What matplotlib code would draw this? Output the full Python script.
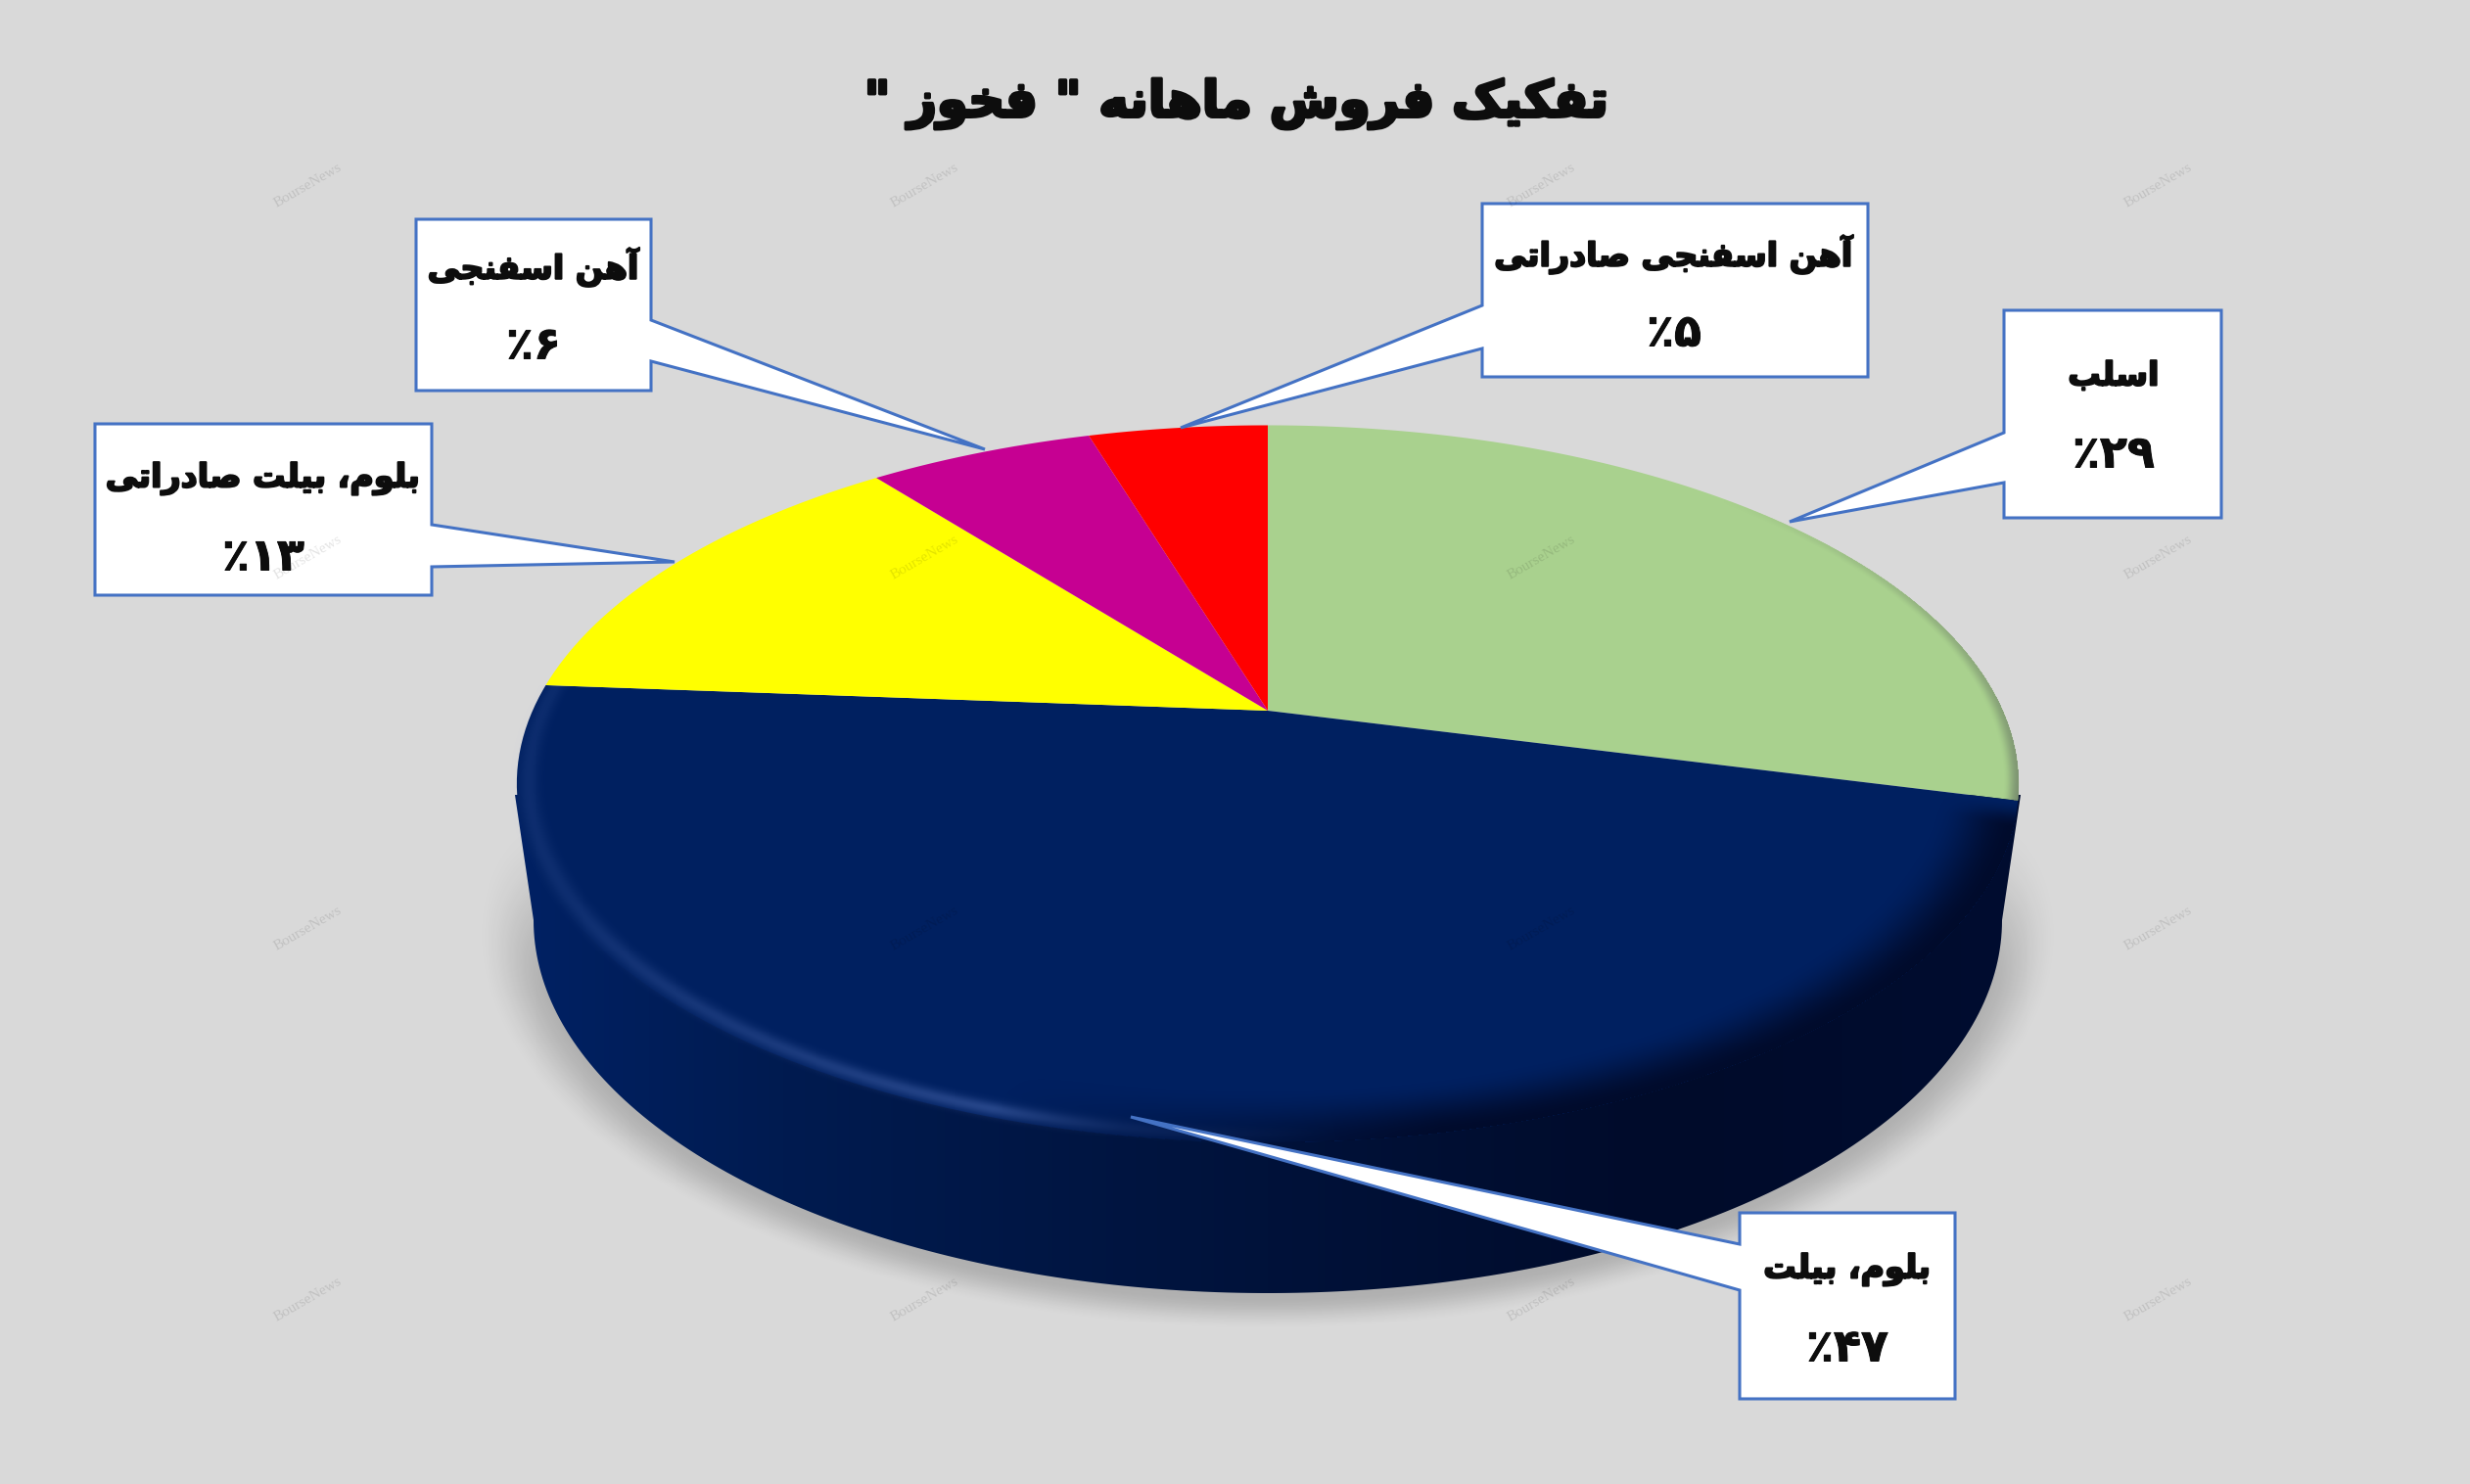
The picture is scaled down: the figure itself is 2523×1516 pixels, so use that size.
import numpy as np
import matplotlib
matplotlib.use('Agg')
import matplotlib.pyplot as plt
import matplotlib.patheffects as pe
from matplotlib.path import Path
from matplotlib.patches import PathPatch
from matplotlib.transforms import Transform

W, H = 2523, 1516
title = 'تفکیک فروش ماهانه " فخوز "'
categories = ['اسلب', 'بلوم، بیلت', 'بلوم، بیلت صادراتی', 'آهن اسفنجی', 'آهن اسفنجی صادراتی']
shares = [29.0, 47.2, 13.2, 5.9, 4.7]
percent_labels = [29, 47, 13, 6, 5]
colors = ['#a9d18e', '#002060', '#ffff00', '#c60092', '#ff0000']

FORMS = {
    'آ': (0xFE81, 0xFE82), 'ا': (0xFE8D, 0xFE8E), 'د': (0xFEA9, 0xFEAA), 'ر': (0xFEAD, 0xFEAE),
    'ز': (0xFEAF, 0xFEB0), 'و': (0xFEED, 0xFEEE),
    'ب': (0xFE8F, 0xFE90, 0xFE91, 0xFE92), 'ت': (0xFE95, 0xFE96, 0xFE97, 0xFE98),
    'ج': (0xFE9D, 0xFE9E, 0xFE9F, 0xFEA0), 'خ': (0xFEA5, 0xFEA6, 0xFEA7, 0xFEA8),
    'س': (0xFEB1, 0xFEB2, 0xFEB3, 0xFEB4), 'ش': (0xFEB5, 0xFEB6, 0xFEB7, 0xFEB8),
    'ص': (0xFEB9, 0xFEBA, 0xFEBB, 0xFEBC), 'ف': (0xFED1, 0xFED2, 0xFED3, 0xFED4),
    'ک': (0xFB8E, 0xFB8F, 0xFB90, 0xFB91), 'ل': (0xFEDD, 0xFEDE, 0xFEDF, 0xFEE0),
    'م': (0xFEE1, 0xFEE2, 0xFEE3, 0xFEE4), 'ن': (0xFEE5, 0xFEE6, 0xFEE7, 0xFEE8),
    'ه': (0xFEE9, 0xFEEA, 0xFEEB, 0xFEEC), 'ی': (0xFBFC, 0xFBFD, 0xFBFE, 0xFBFF),
}


def shape(s):
    out = []
    for i, c in enumerate(s):
        f = FORMS.get(c)
        if f is None:
            out.append(c)
            continue
        prev = FORMS.get(s[i - 1]) if i > 0 else None
        nxt = FORMS.get(s[i + 1]) if i + 1 < len(s) else None
        join_prev = prev is not None and len(prev) == 4
        join_next = nxt is not None and len(f) == 4
        if join_prev and join_next:
            out.append(chr(f[3]))
        elif join_prev:
            out.append(chr(f[1]))
        elif join_next:
            out.append(chr(f[2]))
        else:
            out.append(chr(f[0]))
    return ''.join(reversed(out))


def pct(v):
    return '٪' + str(v).translate(str.maketrans('0123456789', '۰۱۲۳۴۵۶۷۸۹'))


CX, CY, A, B, K = 1295.0, 726.0, 751.0, 351.0, 0.204


class Perspective(Transform):
    input_dims = output_dims = 2
    is_separable = False
    has_inverse = False

    def transform_non_affine(self, v):
        v = np.asarray(v, float)
        d = 1 + K * v[:, 1]
        return np.column_stack([CX + A * v[:, 0] / d, CY - B * v[:, 1] / d])

    def transform_path_non_affine(self, path):
        polys = Path(path.vertices * 2000, path.codes).to_polygons(closed_only=True)
        p = polys[0] / 2000
        return Path(self.transform_non_affine(p), closed=True)


def px_axes(z):
    a = fig.add_axes([0, 0, 1, 1], zorder=z)
    a.set_xlim(0, W)
    a.set_ylim(H, 0)
    a.axis('off')
    a.patch.set_alpha(0)
    return a


def over(img, a, **kw):
    a.imshow(img, extent=(0, W, H, 0), aspect='auto', interpolation='bilinear', **kw)
    a.set_xlim(0, W)
    a.set_ylim(H, 0)


def sstep(t):
    t = np.clip(t, 0, 1)
    return t * t * (3 - 2 * t)


fig = plt.figure(figsize=(W / 100, H / 100), dpi=100, facecolor='#d9d9d9')
yy, xx = np.mgrid[0:H, 0:W] + 0.5

# drop shadow
BCX, BCY, BA, BB = 1295.0, 940.0, 750.0, 381.0
ax0 = px_axes(1)
q = np.hypot((xx - BCX) / BA, (yy - BCY - 8) / BB)
sh = (1 - sstep((q - 0.985) / 0.095)) * 0.19 * sstep((yy - 820) / 200)
img = np.zeros((H, W, 4))
img[..., 3] = sh
over(img, ax0)

# side wall
th = np.radians(np.linspace(180, 360, 200))
side_pts = np.vstack([[[526, 812]],
                      np.column_stack([BCX + BA * np.cos(th), BCY - BB * np.sin(th)]),
                      [[2064, 812]], [[526, 812]]])
side = PathPatch(Path(side_pts, closed=True), fc='none', ec='none', transform=ax0.transData)
ax0.add_patch(side)
gx = [0, 526, 800, 1295, 1700, 2064, W]
gr = np.array([(0, 33, 100), (0, 33, 100), (0, 27, 80), (0, 18, 58), (0, 11, 42), (0, 13, 48), (0, 13, 48)]) / 255
grad = np.stack([np.interp(np.arange(W) + .5, gx, gr[:, i]) for i in range(3)], axis=-1)[None, :, :]
im = ax0.imshow(grad, extent=(0, W, H, 0), aspect='auto', interpolation='bilinear')
im.set_clip_path(side)
ax0.set_xlim(0, W)
ax0.set_ylim(H, 0)

# pie top
ax1 = fig.add_axes([0, 0, 1, 1], zorder=2)
wedges, _ = ax1.pie(shares, colors=colors, startangle=90, counterclock=False, radius=1.0)
ax1.set_aspect('auto')
ax1.set_xlim(0, W)
ax1.set_ylim(H, 0)
ax1.axis('off')
ax1.patch.set_alpha(0)
proj = Perspective() + ax1.transData
for w in wedges:
    w.set_transform(proj)
    w.set_clip_on(False)

# rim shading
ax2 = px_axes(3)
X = xx - CX
Y = CY - yy
den = B / (B - K * Y)
uy = Y / (B - K * Y)
ux = X / A * den
r = np.hypot(ux, uy)
phi = np.degrees(np.arctan2(ux, uy)) % 360
cum = np.cumsum(shares) * 3.6
t = (phi - cum[0]) / (cum[1] - cum[0])
in_navy = (t >= 0) & (t <= 1)
rgba = np.zeros((H, W, 4))
dark = sstep((r - 0.90) / 0.10) * np.interp(t, [0, .38, .55], [1, 1, 0]) * in_navy * (r <= 1.0) * 0.95
dark = dark * sstep(t / 0.025)
c_dark = np.array([0, 11, 42]) / 255
amp = np.interp(t, [0, .42, .5, .55, .62, .8, 1.0], [0, 0, .10, .32, .24, .12, .10])
hl = np.exp(-((r - 0.985) / 0.013) ** 2) * amp * in_navy * (r <= 1.012)
c_hl = np.array([120, 150, 225]) / 255
t2 = np.clip((phi - 45) / (cum[0] - 45), 0, 1) * (phi < cum[0])
gr_a = sstep((r - 0.98) / 0.02) * t2 * 0.7 * (r <= 1.0)
c_gr = np.array([105, 120, 100]) / 255
a_tot = 1 - (1 - dark) * (1 - hl) * (1 - gr_a)
w_sum = dark + hl + gr_a + 1e-9
for i in range(3):
    rgba[..., i] = (dark * c_dark[i] + hl * c_hl[i] + gr_a * c_gr[i]) / w_sum
rgba[..., 3] = a_tot
over(rgba, ax2)

bold = [pe.withStroke(linewidth=1.5, foreground='#0d0d0d')]
bold_num = [pe.withStroke(linewidth=0.7, foreground='#0d0d0d')]
boxes = [
    ((2047, 317, 2269, 529), 'l', (442, 493), (1828, 533), 2159, (384, 465), 0),
    ((1777, 1239, 1997, 1429), 'l', (1271, 1318), (1155, 1141), 1887, (1297, 1378), 1),
    ((97, 433, 441, 608), 'r', (536, 579), (689, 574), 269, (489, 570), 2),
    ((425, 224, 665, 399), 'r', (327, 369), (1006, 459), 545, (273, 354), 3),
    ((1514, 208, 1908, 385), 'l', (312, 356), (1206, 437), 1710, (260, 341), 4),
]
for (x0, y0, x1, y1), s, (w0, w1), tip, tx, (ty0, ty1), idx in boxes:
    if s == 'l':
        pts = [(x0, y0), (x1, y0), (x1, y1), (x0, y1), (x0, w1), tip, (x0, w0), (x0, y0)]
    else:
        pts = [(x0, y0), (x1, y0), (x1, w0), tip, (x1, w1), (x1, y1), (x0, y1), (x0, y0)]
    ax2.add_patch(PathPatch(Path(pts, closed=True), fc='white', ec='#4472c4', lw=2.2, joinstyle='miter', zorder=5))
    ax2.text(tx, ty0, shape(categories[idx]), ha='center', va='center', fontsize=24,
             family='DejaVu Sans', weight='bold', color='#0d0d0d', zorder=6, path_effects=bold)
    ax2.text(tx, ty1, pct(percent_labels[idx]), ha='center', va='center', fontsize=33,
             family='DejaVu Sans', weight='bold', color='#0d0d0d', zorder=6, path_effects=bold_num)

ax2.text(1263, 106, shape(title), ha='center', va='center', fontsize=37,
         family='DejaVu Sans', weight='bold', color='#0d0d0d', zorder=6,
         path_effects=[pe.withStroke(linewidth=2.4, foreground='#0d0d0d')])

for wx in (314, 944, 1574, 2204):
    for wy in (190, 570, 949, 1328):
        ax2.text(wx, wy, 'BourseNews', rotation=30, rotation_mode='anchor', ha='center', va='center',
                 fontsize=11, family='Liberation Serif', color='black', alpha=0.11, zorder=7)

fig.savefig('out.png', dpi=100, facecolor=fig.get_facecolor())
